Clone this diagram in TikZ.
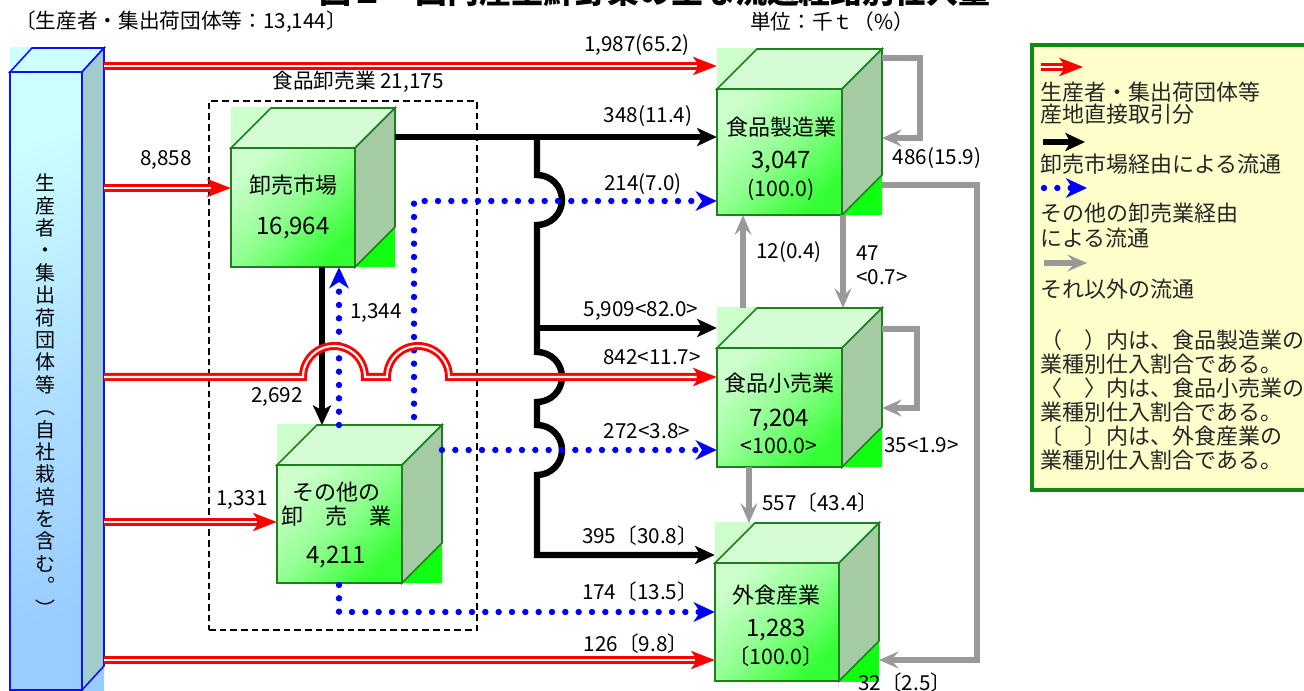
\documentclass[tikz,border=0pt]{standalone}
\usepackage{fontspec}
\setmainfont{Noto Sans CJK JP}
\usetikzlibrary{arrows.meta,fit}
\definecolor{cubeA}{HTML}{CCFFCC}
\definecolor{cubeB}{HTML}{88FF88}
\definecolor{cubeC}{HTML}{10FF10}
\definecolor{faceA}{HTML}{CCFFCC}
\definecolor{faceB}{HTML}{90FF90}
\definecolor{faceC}{HTML}{33FF33}
\definecolor{cubeTop}{HTML}{D6FCD6}
\definecolor{cubeSide}{HTML}{A5CBA5}
\definecolor{cubeEdge}{HTML}{1F7F1F}
\definecolor{pilA}{HTML}{CCFFFF}
\definecolor{pilB}{HTML}{B0E0FF}
\definecolor{pilC}{HTML}{99CCFF}
\definecolor{pilTop}{HTML}{CCFFFF}
\definecolor{pilSide}{HTML}{A0CCCC}
\definecolor{pilEdge}{HTML}{1010FF}
\definecolor{flowgray}{HTML}{999999}
\definecolor{legfill}{HTML}{FFFFCC}
\definecolor{legborder}{HTML}{118811}
\newcommand\gcube[5]{%
  \shade[top color=cubeA, bottom color=cubeC, middle color=cubeB, shading angle=45] (#2,{#3-40}) rectangle ({#4+40},#5);
  \shade[top color=faceA, bottom color=faceC, middle color=faceB, shading angle=45] (#2,#3) rectangle (#4,#5);
  \draw[cubeEdge, line width=1.2pt] (#2,#3) rectangle (#4,#5);
  \filldraw[fill=cubeTop, draw=cubeEdge, line width=1.2pt] (#2,#3) -- ({#2+40},{#3-40}) -- ({#4+40},{#3-40}) -- (#4,#3) -- cycle;
  \filldraw[fill=cubeSide, draw=cubeEdge, line width=1.2pt] (#4,#3) -- ({#4+40},{#3-40}) -- ({#4+40},{#5-40}) -- (#4,#5) -- cycle;
  \node[fit={(#2,#3) (#4,#5)}, inner sep=0pt] (#1) {};
}
\begin{document}
\begin{tikzpicture}[x=0.75pt,y=-0.75pt,
  lbl/.style={font=\fontsize{15.5}{18}\selectfont, inner sep=0pt},
  ctext/.style={font=\fontsize{16.5}{19}\selectfont, inner sep=0pt},
  cnum/.style={font=\fontsize{18}{20}\selectfont, inner sep=0pt},
  cpct/.style={font=\fontsize{16}{19}\selectfont, inner sep=0pt},
  legtext/.style={font=\fontsize{16.5}{19}\selectfont, inner sep=0pt, anchor=west, text=black!85},
  redflow/.style={draw=red, line width=6pt, -{Stealth[length=18pt,width=14pt,inset=5pt,line width=0pt]}, postaction={draw=white, line width=1.6pt, arrows=-, shorten >=15pt}},
  blackflow/.style={draw=black, line width=4.8pt, -{Stealth[length=15pt,width=14pt,inset=4pt,line width=0pt]}},
  blueflow/.style={draw=blue, line width=4.8pt, line cap=round, dash pattern=on 0pt off 10pt, -{Stealth[length=16pt,width=15pt,inset=5pt,line width=0pt]}},
  grayflow/.style={draw=flowgray, line width=5.2pt, line join=miter, -{Stealth[length=15pt,width=13pt,inset=6pt,line width=0pt]}},
  boxdash/.style={draw=black, line width=1.5pt, dash pattern=on 5pt off 3pt}
]
\useasboundingbox (0,0) rectangle (1304,691);
\fill[white] (0,0) rectangle (1304,691);

% title (cut by the page edge, as in the reference)
\node[font=\bfseries\fontsize{24}{26}\selectfont, anchor=base, inner sep=0pt] (title) at (655,4) {図２　国内産生鮮野菜の主な流通経路別仕入量};
\node[lbl] (srcsum) at (181,22) {〔生産者・集出荷団体等：13,144〕};
\node[lbl] (unit) at (832,22) {単位：千ｔ（\%）};

% producers pillar
\shade[top color=pilA, bottom color=pilC, middle color=pilB, shading angle=45] (10,48) rectangle (104,690);
\shade[top color=pilA, bottom color=pilC, middle color=pilB, shading angle=20] (10,72) rectangle (82,690);
\draw[pilEdge, line width=1.2pt] (10,72) rectangle (82,690);
\filldraw[fill=pilTop, draw=pilEdge, line width=1.2pt] (10,72) -- (32,48) -- (104,48) -- (82,72) -- cycle;
\filldraw[fill=pilSide, draw=pilEdge, line width=1.2pt] (82,72) -- (104,48) -- (104,666) -- (82,690) -- cycle;
\node[fit={(10,48) (104,690)}, inner sep=0pt] (src) {};
\node[font=\fontsize{15}{16.8}\selectfont, align=center, inner sep=0pt] (srctext) at (46,395)
 {生\\産\\者\\・\\集\\出\\荷\\団\\体\\等\\︵\\自\\社\\栽\\培\\を\\含\\む\\︒\\︶};

% dashed wholesale frame
\node[fit={(209,101) (477,630)}, inner sep=0pt, boxdash] (wholesale) {};
\node[lbl] (wholesaleT) at (358,82) {食品卸売業 21,175};

% cubes
\gcube{mkt}{231}{148}{355}{267}
\gcube{oth}{277}{465}{402}{583}
\gcube{mfg}{717}{89}{842}{215}
\gcube{ret}{717}{348}{842}{467}
\gcube{food}{715}{563}{839}{681}

\node[ctext] (mktT1) at (293,185) {卸売市場};
\node[cnum] (mktT2) at (293,228) {16,964};
\node[ctext] (othT1) at (336,492) {その他の};
\node[ctext] (othT2) at (336,516) {卸　売　業};
\node[cnum] (othT3) at (336,557) {4,211};
\node[ctext] (mfgT1) at (781,127) {食品製造業};
\node[cnum] (mfgT2) at (781,162) {3,047};
\node[cpct] (mfgT3) at (781,190) {(100.0)};
\node[ctext] (retT1) at (779,383) {食品小売業};
\node[cnum] (retT2) at (779,420) {7,204};
\node[cpct] (retT3) at (779,446) {<100.0>};
\node[ctext] (foodT1) at (776,595) {外食産業};
\node[cnum] (foodT2) at (776,630) {1,283};
\node[cpct] (foodT3) at (776,656) {〔100.0〕};

% coordinates
\coordinate (r1) at (104,66);
\coordinate (r2) at (104,188);
\coordinate (r3) at (104,377);
\coordinate (r4) at (104,522);
\coordinate (r5) at (104,660);
\coordinate (b0) at (395,137);
\coordinate (j1) at (537,137);
\coordinate (j2) at (537,328);
\coordinate (j3) at (537,555);
\coordinate (u1) at (414,417);
\coordinate (u2) at (414,201);
\coordinate (u3) at (339,425);
\coordinate (u4) at (442,450);
\coordinate (u5) at (339,585);
\coordinate (u6) at (339,612);
\coordinate (k1) at (322,267);
\coordinate (k2) at (322,425);
\coordinate (g1a) at (882,58);
\coordinate (g1b) at (920,58);
\coordinate (g1c) at (920,138);
\coordinate (g1d) at (882,138);
\coordinate (g2a) at (882,185);
\coordinate (g2b) at (977,185);
\coordinate (g2c) at (977,660);
\coordinate (g2d) at (879,660);
\coordinate (g3a) at (743,308);
\coordinate (g4b) at (843,308);
\coordinate (g5a) at (882,329);
\coordinate (g5b) at (917,329);
\coordinate (g5c) at (917,408);
\coordinate (g5d) at (882,408);
\coordinate (g6a) at (749,467);
\coordinate (g6b) at (749,523);

% gray flows
\draw[grayflow] (g1a) -- (g1b) -- (g1c) -- (g1d);
\draw[grayflow] (g2a) -- (g2b) -- (g2c) -- (g2d);
\draw[grayflow] (g3a) -- (g3a |- mfg.south);
\draw[grayflow] (g4b |- mfg.south) -- (g4b);
\draw[grayflow] (g5a) -- (g5b) -- (g5c) -- (g5d);
\draw[grayflow] (g6a) -- (g6b);

% black flows
\draw[blackflow] (b0) -- (mfg.west |- b0);
\draw[blackflow] (j1) -- (537,175) arc[start angle=-90, end angle=90, radius=25]
  -- (537,352) arc[start angle=-90, end angle=90, radius=25]
  -- (537,425) arc[start angle=-90, end angle=90, radius=25]
  -- (j3) -- (food.west |- j3);
\draw[blackflow] (j2) -- (ret.west |- j2);
\draw[blackflow] (k1) -- (k2);

% blue dotted flows
\draw[blueflow] (u1) -- (u2) -- (mfg.west |- u2);
\draw[blueflow] (u3) -- (u3 |- mkt.south);
\draw[blueflow] (u4) -- (ret.west |- u4);
\draw[blueflow] (u5) -- (u6) -- (food.west |- u6);

% red flows
\draw[redflow] (r1) -- (mfg.west |- r1);
\draw[redflow] (r2) -- (mkt.west |- r2);
\draw[redflow] (r3) -- (303,377) arc[start angle=180, end angle=360, radius=31]
  -- (387,377) arc[start angle=180, end angle=360, radius=31] -- (ret.west |- r3);
\draw[redflow] (r4) -- (oth.west |- r4);
\draw[redflow] (r5) -- (food.west |- r5);

% labels
\node[lbl] (L1) at (637,45) {1,987(65.2)};
\node[lbl] (L3) at (648,116) {348(11.4)};
\node[lbl] (L4) at (166,160) {8,858};
\node[lbl] (L5) at (643,184) {214(7.0)};
\node[lbl] (L6) at (376,313) {1,344};
\node[lbl] (L7) at (641,311) {5,909<82.0>};
\node[lbl] (L8) at (652,357) {842<11.7>};
\node[lbl] (L9) at (277,397) {2,692};
\node[lbl] (L10) at (647,431) {272<3.8>};
\node[lbl] (L11) at (242,500) {1,331};
\node[lbl] (L12) at (640,536) {395〔30.8〕};
\node[lbl] (L13) at (640,592) {174〔13.5〕};
\node[lbl] (L14) at (636,644) {126〔9.8〕};
\node[lbl] (L15) at (937,158) {486(15.9)};
\node[lbl] (L16) at (789,252) {12(0.4)};
\node[lbl, anchor=west] (L17) at (856,253) {47};
\node[lbl, anchor=west] (L18) at (856,277) {<0.7>};
\node[lbl, anchor=west] (L19) at (884,445) {35<1.9>};
\node[lbl, anchor=west] (L20) at (762,503) {557〔43.4〕};
\node[lbl, anchor=west] (L21) at (858,683) {32〔2.5〕};

% legend
\node[fit={(1032,45) (1312,490)}, inner sep=0pt, draw=legborder, fill=legfill, line width=3.5pt] (legend) {};
\coordinate (la1) at (1041,67);  \coordinate (la2) at (1083,67);
\coordinate (lb1) at (1043,142); \coordinate (lb2) at (1085,142);
\coordinate (lc1) at (1044,188); \coordinate (lc2) at (1087,188);
\coordinate (ld1) at (1044,263); \coordinate (ld2) at (1087,263);
\draw[redflow] (la1) -- (la2);
\draw[blackflow] (lb1) -- (lb2);
\draw[blueflow] (lc1) -- (lc2);
\draw[grayflow] (ld1) -- (ld2);
\node[legtext] (lg1) at (1040,92) {生産者・集出荷団体等};
\node[legtext] (lg2) at (1040,114) {産地直接取引分};
\node[legtext] (lg3) at (1040,164) {卸売市場経由による流通};
\node[legtext] (lg4) at (1040,213) {その他の卸売業経由};
\node[legtext] (lg5) at (1040,238) {による流通};
\node[legtext] (lg6) at (1040,289) {それ以外の流通};
\node[legtext] (lg7) at (1040,340) {（　）内は、食品製造業の};
\node[legtext] (lg8) at (1040,364) {業種別仕入割合である。};
\node[legtext] (lg9) at (1040,388) {〈　〉内は、食品小売業の};
\node[legtext] (lg10) at (1040,412) {業種別仕入割合である。};
\node[legtext] (lg11) at (1040,436) {〔　〕内は、外食産業の};
\node[legtext] (lg12) at (1040,460) {業種別仕入割合である。};
\end{tikzpicture}
\end{document}
